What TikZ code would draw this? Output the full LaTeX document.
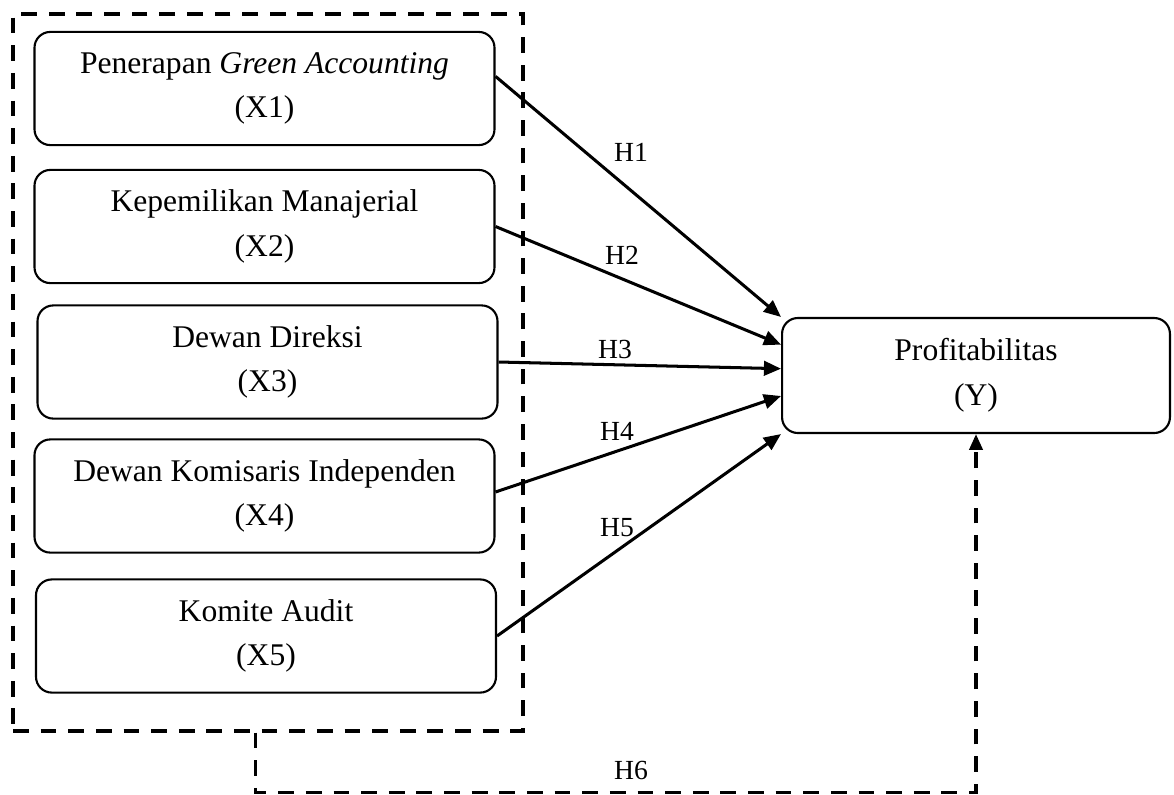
\documentclass[tikz,border=0pt]{standalone}
\usepackage{fontspec}
\setmainfont{Liberation Serif}
\usetikzlibrary{arrows.meta}

\tikzset{
	varbox/.style={draw, line width=0.8pt, rounded corners=6pt, align=center,
		minimum width=174.8pt, minimum height=43pt, inner sep=0pt,
		font=\fontsize{12}{17}\selectfont},
	hyp/.style={line width=1.15pt, -{Triangle[length=6.5pt,width=5.5pt]}},
	hyplabel/.style={font=\fontsize{10.5}{12}\selectfont, inner sep=0pt},
	groupframe/.style={draw, line width=1.25pt, dash pattern=on 6pt off 4.5pt,
		minimum width=193.8pt, minimum height=272.5pt, inner sep=0pt},
	jointline/.style={line width=1.25pt, dash pattern=on 6pt off 4.5pt,
		-{Triangle[length=6pt,width=5pt]}},
}

\begin{document}
\begin{tikzpicture}[x=0.38pt, y=-0.38pt]
	\useasboundingbox (0,0) rectangle (1174,794);
	
	\node[groupframe] (frame) at (268,372.5) {};
	
	\node[varbox] (X1) at (264.5,88.5) {Penerapan \textit{Green Accounting}\\(X1)};
	\node[varbox] (X2) at (264.5,226.5) {Kepemilikan Manajerial\\(X2)};
	\node[varbox] (X3) at (267.5,362) {Dewan Direksi\\(X3)};
	\node[varbox] (X4) at (264.5,496) {Dewan Komisaris Independen\\(X4)};
	\node[varbox] (X5) at (266,636) {Komite Audit\\(X5)};
	\node[varbox, minimum width=147.4pt, minimum height=43.7pt] (Y) at (976,375.5) {Profitabilitas\\(Y)};
	
	\draw[hyp] (X1.3) -- (Y.north west);
	\draw[hyp] (X2.east) -- (Y.171.6);
	\draw[hyp] (X3.east) -- (Y.178.1);
	\draw[hyp] (X4.1.5) -- (Y.186.3);
	\draw[hyp] (X5.east) -- (Y.south west);
	\draw[jointline] (frame.268) -- ++(0,60) -| (Y.south);
	
	\node[hyplabel] (lh1) at (631,152) {H1};
	\node[hyplabel] (lh2) at (622,255) {H2};
	\node[hyplabel] (lh3) at (615,349) {H3};
	\node[hyplabel] (lh4) at (617,431) {H4};
	\node[hyplabel] (lh5) at (617,528) {H5};
	\node[hyplabel] (lh6) at (631,770) {H6};
\end{tikzpicture}
\end{document}
